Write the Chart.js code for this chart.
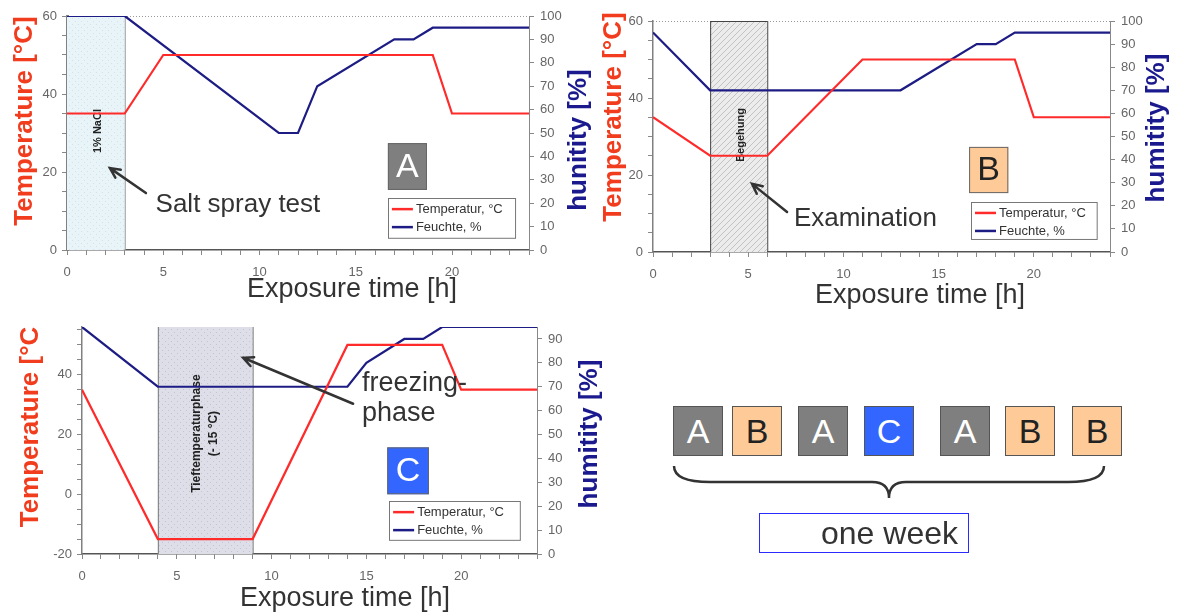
<!DOCTYPE html>
<html>
<head>
<meta charset="utf-8">
<script src="https://cdn.jsdelivr.net/npm/chart.js@4.4.0/dist/chart.umd.min.js"></script>
<style>
body { margin: 0; background: #fff; width: 1178px; height: 614px; position: relative; overflow: hidden;
       font-family: "Liberation Sans", Arial, sans-serif; }
canvas { position: absolute; }
#chartA { left: 0; top: 0; }
#chartB { left: 590px; top: 0; }
#chartC { left: 0; top: 308px; }
.box { position: absolute; top: 406px; width: 48px; height: 48px; border: 1px solid #555;
       font-size: 34px; line-height: 48px; text-align: center; }
#week { position: absolute; left: 759px; top: 513px; width: 198px; height: 38px; border: 1.5px solid #2b2bff;
        font-size: 32px; line-height: 38px; text-align: right; padding-right: 10px; color: #333; }
</style>
</head>
<body>
<canvas id="chartA" width="600" height="308"></canvas>
<canvas id="chartB" width="588" height="310"></canvas>
<canvas id="chartC" width="610" height="306"></canvas>
<div id="plan"></div>
<svg width="1178" height="614" style="position:absolute;left:0;top:0">
  <path d="M674,466 Q674,482 710,482 L872,482 Q889,482 889,498 Q889,482 906,482 L1068,482 Q1104,482 1104,466"
        fill="none" stroke="#333" stroke-width="2.5"/>
</svg>
<div id="week">one week</div>
<script>
// Stunden / Werte der drei Prüfzyklen
var tempA_h = [0, 3, 5, 19, 20, 24];
var tempA   = [35, 35, 50, 50, 35, 35];
var humA_h  = [0, 3, 11, 12, 13, 17, 18, 19, 24];
var humA    = [100, 100, 50, 50, 70, 90, 90, 95, 95];

var tempB_h = [0, 3, 6, 11, 19, 20, 24];
var tempB   = [35, 25, 25, 50, 50, 35, 35];
var humB_h  = [0, 3, 13, 17, 18, 19, 24];
var humB    = [95, 70, 70, 90, 90, 95, 95];

var tempC_h = [0, 4, 9, 14, 19, 20, 24];
var tempC   = [35, -15, -15, 50, 50, 35, 35];
var humC_h  = [0, 4, 14, 15, 17, 18, 19, 24];
var humC    = [95, 70, 70, 80, 90, 90, 95, 95];

var weekPlan = ["A", "B", "A", "C", "A", "B", "B"];

var FONT = "'Liberation Sans', Arial, sans-serif";
var RED = "#ff2a2a", NAVY = "#1c1c84";
Chart.defaults.font.family = FONT;

function pts(xs, ys) {
    return xs.map(function (x, i) { return { x: x, y: ys[i] }; });
}

function tile(kind, base, ink) {
    var c = document.createElement("canvas");
    c.width = c.height = 6;
    var g = c.getContext("2d");
    g.fillStyle = base;
    g.fillRect(0, 0, 6, 6);
    g.fillStyle = ink;
    g.strokeStyle = ink;
    if (kind === "hatch") {
        g.lineWidth = 1;
        g.beginPath();
        g.moveTo(0, 6); g.lineTo(6, 0);
        g.moveTo(-1, 1); g.lineTo(1, -1);
        g.moveTo(5, 7); g.lineTo(7, 5);
        g.stroke();
    } else {
        g.fillRect(0, 0, 1, 1);
        g.fillRect(3, 3, 1, 1);
    }
    return c;
}

function overlay(n) {
    return {
        id: "overlay",
        beforeDatasetsDraw: function (chart) {
            var ctx = chart.ctx, sx = chart.scales.x, sy = chart.scales.y, a = chart.chartArea;
            ctx.save();
            if (n.topLine) {
                ctx.strokeStyle = "#999";
                ctx.lineWidth = 1;
                ctx.setLineDash([1, 2]);
                ctx.beginPath();
                ctx.moveTo(a.left, a.top + 0.5);
                ctx.lineTo(a.right, a.top + 0.5);
                ctx.stroke();
                ctx.setLineDash([]);
            }
            var s = n.shade;
            var x0 = sx.getPixelForValue(s.from), x1 = sx.getPixelForValue(s.to);
            ctx.fillStyle = ctx.createPattern(tile(s.kind, s.base, s.ink), "repeat");
            ctx.fillRect(x0, a.top, x1 - x0, a.bottom - a.top);
            ctx.strokeStyle = s.edge;
            ctx.lineWidth = 1;
            ctx.beginPath();
            if (s.from > 0) { ctx.moveTo(x0 + 0.5, a.bottom); ctx.lineTo(x0 + 0.5, a.top); }
            if (s.top) { ctx.moveTo(x0, a.top + 0.5); ctx.lineTo(x1, a.top + 0.5); }
            ctx.moveTo(x1 + 0.5, a.top); ctx.lineTo(x1 + 0.5, a.bottom);
            ctx.stroke();
            // rotated label inside the shaded phase
            var t = n.shadeText;
            ctx.translate(sx.getPixelForValue(t.x), sy.getPixelForValue(t.y));
            ctx.rotate(-Math.PI / 2);
            ctx.fillStyle = "#222";
            ctx.font = t.font;
            ctx.textAlign = "center";
            ctx.textBaseline = "middle";
            var off = -(t.lines.length - 1) * t.gap / 2;
            t.lines.forEach(function (l, i) { ctx.fillText(l, 0, off + i * t.gap); });
            ctx.restore();
        },
        afterDraw: function (chart) {
            var ctx = chart.ctx, sx = chart.scales.x, sy = chart.scales.y;
            var px = function (v) { return sx.getPixelForValue(v); };
            var py = function (v) { return sy.getPixelForValue(v); };
            ctx.save();

            // Pfeil
            var fx = px(n.arrow.from[0]), fy = py(n.arrow.from[1]);
            var tx = px(n.arrow.to[0]), ty = py(n.arrow.to[1]);
            var ang = Math.atan2(ty - fy, tx - fx);
            ctx.strokeStyle = "#333";
            ctx.lineWidth = 2.5;
            ctx.lineCap = "round";
            ctx.beginPath();
            ctx.moveTo(fx, fy); ctx.lineTo(tx, ty);
            ctx.moveTo(tx - 11 * Math.cos(ang - 0.45), ty - 11 * Math.sin(ang - 0.45));
            ctx.lineTo(tx, ty);
            ctx.lineTo(tx - 11 * Math.cos(ang + 0.45), ty - 11 * Math.sin(ang + 0.45));
            ctx.stroke();

            // Notiz
            ctx.fillStyle = "#333";
            ctx.font = n.note.size + "px " + FONT;
            ctx.textAlign = "left";
            ctx.textBaseline = "alphabetic";
            n.note.lines.forEach(function (l, i) {
                ctx.fillText(l, px(n.note.x), py(n.note.y) + i * n.note.lh);
            });

            // Buchstabe A/B/C
            var b = n.badge;
            var bx0 = px(b.x0), bx1 = px(b.x1), by0 = py(b.y0), by1 = py(b.y1);
            ctx.fillStyle = b.fill;
            ctx.fillRect(bx0, by0, bx1 - bx0, by1 - by0);
            ctx.strokeStyle = "#666";
            ctx.lineWidth = 1;
            ctx.strokeRect(bx0 + 0.5, by0 + 0.5, bx1 - bx0 - 1, by1 - by0 - 1);
            ctx.fillStyle = b.color;
            ctx.font = "34px " + FONT;
            ctx.textAlign = "center";
            ctx.textBaseline = "middle";
            ctx.fillText(b.letter, (bx0 + bx1) / 2, (by0 + by1) / 2 + 1);

            // Legende
            var g = n.legend;
            var lx0 = px(g.x0), lx1 = px(g.x1), ly0 = py(g.y0), ly1 = py(g.y1);
            ctx.fillStyle = "#fff";
            ctx.fillRect(lx0, ly0, lx1 - lx0, ly1 - ly0);
            ctx.strokeStyle = "#777";
            ctx.strokeRect(Math.round(lx0) + 0.5, Math.round(ly0) + 0.5, lx1 - lx0, ly1 - ly0);
            ctx.font = "13px " + FONT;
            ctx.textAlign = "left";
            ctx.textBaseline = "middle";
            chart.data.datasets.forEach(function (ds, i) {
                var yy = ly0 + 11 + i * 18;
                ctx.strokeStyle = ds.borderColor;
                ctx.lineWidth = 2.5;
                ctx.lineCap = "butt";
                ctx.beginPath();
                ctx.moveTo(lx0 + 4, yy); ctx.lineTo(lx0 + 25, yy);
                ctx.stroke();
                ctx.fillStyle = "#333";
                ctx.fillText(ds.label, lx0 + 28, yy);
            });

            // Achsentitel
            ctx.textAlign = "center";
            ctx.textBaseline = "middle";
            ctx.font = "bold 26px " + FONT;
            [[n.left, "#f23c1e"], [n.right, "#1a1a8e"]].forEach(function (p) {
                ctx.save();
                ctx.translate(p[0].x, p[0].y);
                ctx.rotate(-Math.PI / 2);
                ctx.fillStyle = p[1];
                ctx.fillText(p[0].text, 0, 0);
                ctx.restore();
            });
            ctx.font = "27px " + FONT;
            ctx.fillStyle = "#333";
            ctx.fillText("Exposure time [h]", n.bottom.x, n.bottom.y);
            ctx.restore();
        }
    };
}

function buildChart(id, c) {
    var tickFont = { family: FONT, size: 13 };
    return new Chart(document.getElementById(id).getContext("2d"), {
        type: "line",
        data: {
            datasets: [{
                label: "Temperatur, °C",
                data: pts(c.tH, c.t),
                borderColor: RED,
                borderWidth: 2.2,
                pointRadius: 0,
                yAxisID: "y"
            }, {
                label: "Feuchte, %",
                data: pts(c.hH, c.h),
                borderColor: NAVY,
                borderWidth: 2.2,
                pointRadius: 0,
                yAxisID: "y2"
            }]
        },
        options: {
            responsive: false,
            animation: false,
            layout: { padding: { top: c.top, left: 0, right: 0, bottom: 0 } },
            plugins: { legend: { display: false }, tooltip: { enabled: false } },
            scales: {
                x: {
                    type: "linear", min: 0, max: 24,
                    afterFit: function (s) { s.height = c.xH; },
                    ticks: {
                        stepSize: 1, autoSkip: false, includeBounds: false, maxRotation: 0,
                        padding: 10, color: "#666", font: tickFont,
                        callback: function (v) { return v % 5 === 0 ? v : ""; }
                    },
                    grid: { drawOnChartArea: false, tickLength: 5, color: "#888" },
                    border: { color: "#555", width: 1.5, dash: [2, 1] }
                },
                y: {
                    position: "left", min: c.tMin, max: c.tMax,
                    afterFit: function (s) { s.width = c.yW; },
                    ticks: {
                        stepSize: 5, autoSkip: false, includeBounds: false,
                        padding: 5, color: "#666", font: tickFont,
                        callback: function (v) { return v % 20 === 0 ? v : ""; }
                    },
                    grid: { drawOnChartArea: false, tickLength: 5, color: "#888" },
                    border: { color: "#808080", width: c.leftBorder }
                },
                y2: {
                    position: "right", min: 0, max: c.hMax,
                    afterFit: function (s) { s.width = c.y2W; },
                    ticks: {
                        stepSize: 10, autoSkip: false, includeBounds: false,
                        padding: 6, color: "#666", font: tickFont
                    },
                    grid: { drawOnChartArea: false, tickLength: 5, color: "#888" },
                    border: { color: "#888", width: 1 }
                }
            }
        },
        plugins: [overlay(c.notes)]
    });
}

buildChart("chartA", {
    tH: tempA_h, t: tempA, hH: humA_h, h: humA,
    tMin: 0, tMax: 60, hMax: 100,
    top: 16, yW: 67, y2W: 71, xH: 58, leftBorder: 3,
    notes: {
        topLine: true,
        shade: { from: 0, to: 3, kind: "dots", base: "#e9f4f8", ink: "#d0e3eb", edge: "#999" },
        shadeText: { x: 1.6, y: 30.5, lines: ["1% NaCl"], font: "bold 11px " + FONT, gap: 14 },
        arrow: { from: [4.1, 14.6], to: [2.23, 21] },
        note: { x: 4.6, y: 9.7, lines: ["Salt spray test"], size: 26, lh: 30 },
        badge: { x0: 16.67, x1: 18.7, y0: 27.4, y1: 15.4, letter: "A", fill: "#7f7f7f", color: "#fff" },
        legend: { x0: 16.67, x1: 23.27, y0: 13.3, y1: 3.1 },
        left: { text: "Temperature [°C]", x: 25, y: 121 },
        right: { text: "hunitity [%]", x: 579, y: 140 },
        bottom: { x: 352, y: 290 }
    }
});

buildChart("chartB", {
    tH: tempB_h, t: tempB, hH: humB_h, h: humB,
    tMin: 0, tMax: 60, hMax: 100,
    top: 21, yW: 63, y2W: 68, xH: 58, leftBorder: 1.5,
    notes: {
        topLine: true,
        shade: { from: 3, to: 6, kind: "hatch", base: "#ececec", ink: "#c2c2c2", edge: "#444", top: true },
        shadeText: { x: 4.6, y: 30.4, lines: ["Begehung"], font: "bold 11px " + FONT, gap: 14 },
        arrow: { from: [7.04, 10.4], to: [5.2, 17.7] },
        note: { x: 7.4, y: 6.75, lines: ["Examination"], size: 26, lh: 30 },
        badge: { x0: 16.6, x1: 18.66, y0: 27.3, y1: 15.3, letter: "B", fill: "#fdca98", color: "#222" },
        legend: { x0: 16.7, x1: 23.3, y0: 13.0, y1: 3.4 },
        left: { text: "Temperature [°C]", x: 24, y: 117 },
        right: { text: "humitity [%]", x: 567, y: 128 },
        bottom: { x: 330, y: 296 }
    }
});

buildChart("chartC", {
    tH: tempC_h, t: tempC, hH: humC_h, h: humC,
    tMin: -20, tMax: 56, hMax: 95,
    top: 19, yW: 82, y2W: 73, xH: 60, leftBorder: 1.5,
    notes: {
        topLine: false,
        shade: { from: 4, to: 9, kind: "dots", base: "#dddee8", ink: "#c3c4d1", edge: "#777" },
        shadeText: { x: 6.5, y: 20.3, lines: ["Tieftemperaturphase", "(- 15 °C)"], font: "bold 12px " + FONT, gap: 17 },
        arrow: { from: [14.3, 30.3], to: [8.5, 45.7] },
        note: { x: 14.77, y: 34.7, lines: ["freezing-", "phase"], size: 27, lh: 30 },
        badge: { x0: 16.1, x1: 18.3, y0: 15.7, y1: 0, letter: "C", fill: "#3366ff", color: "#fff" },
        legend: { x0: 16.2, x1: 23.1, y0: -2.3, y1: -15.3 },
        left: { text: "Temperature [°C", x: 31, y: 119 },
        right: { text: "humitity [%]", x: 590, y: 126 },
        bottom: { x: 345, y: 291 }
    }
});

// Wochenplan
var seqLeft = [673, 732, 798, 864, 940, 1005, 1072];
var boxStyle = {
    A: { bg: "#7f7f7f", fg: "#fff" },
    B: { bg: "#fecb98", fg: "#222" },
    C: { bg: "#3366ff", fg: "#fff" }
};
var plan = document.getElementById("plan");
weekPlan.forEach(function (k, i) {
    var d = document.createElement("div");
    d.className = "box";
    d.textContent = k;
    d.style.left = seqLeft[i] + "px";
    d.style.background = boxStyle[k].bg;
    d.style.color = boxStyle[k].fg;
    plan.appendChild(d);
});
</script>
</body>
</html>
